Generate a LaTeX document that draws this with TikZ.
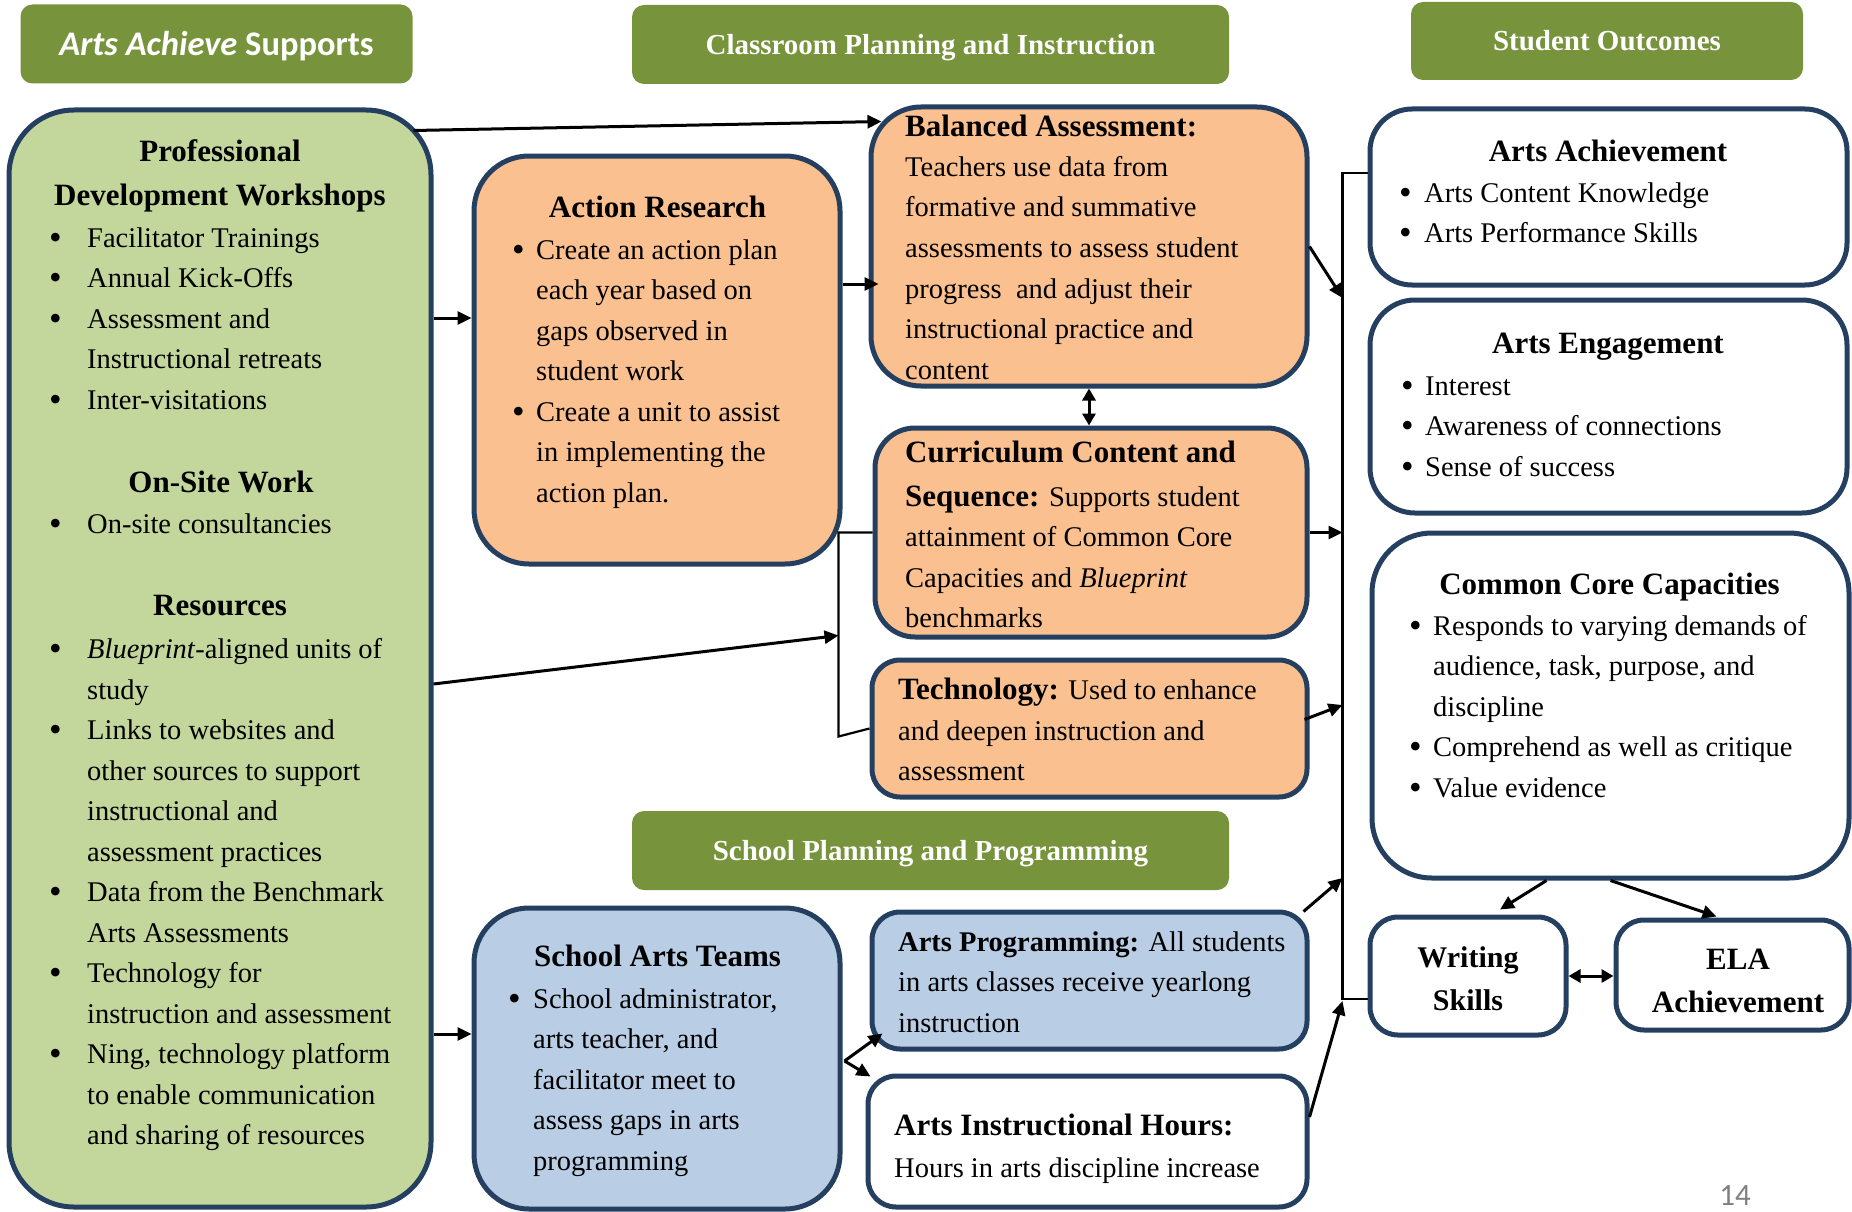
\documentclass[tikz,border=0pt]{standalone}
\usepackage{fontspec}
\setmainfont{Liberation Serif}
\newfontfamily\calfont{Carlito}
\usetikzlibrary{arrows.meta,calc}
\definecolor{hdr}{RGB}{119,147,60}
\definecolor{grn}{RGB}{195,214,155}
\definecolor{org}{RGB}{250,192,144}
\definecolor{blu}{RGB}{185,205,229}
\definecolor{edge}{RGB}{36,63,96}
\definecolor{pgnum}{RGB}{128,128,128}
\newcommand\bodyfont{\fontsize{28.5}{40.5}\selectfont}
\newcommand\hfont{\fontsize{31}{40.5}\selectfont\bfseries}
\newcommand\bl[1]{\makebox[#1][l]{\raisebox{-2pt}{\fontsize{36}{36}\selectfont\textbullet}}}
\begin{document}
\begin{tikzpicture}[x=1pt,y=-1pt,
  hbox/.style={fill=hdr, rounded corners=12pt, inner sep=0pt},
  hdrtext/.style={text=white, font=\fontsize{29}{35}\selectfont\bfseries, inner sep=0pt, anchor=base},
  box/.style={draw=edge, line width=5pt, inner sep=0pt},
  txt/.style={inner sep=0pt, anchor=base west, font=\bodyfont},
  ttl/.style={inner sep=0pt, anchor=base, font=\hfont},
  arr/.style={line width=3pt, -{Triangle[length=14pt,width=13pt]}},
  dbl/.style={line width=3pt, {Triangle[length=12pt,width=13pt]}-{Triangle[length=12pt,width=13pt]}},
  thinl/.style={line width=2.2pt}
]
\useasboundingbox (0,0) rectangle (1852,1212);

% headers
\node[hbox, minimum width=392pt, minimum height=79pt] (h1) at (216.5,44) {};
\node[hbox, minimum width=597pt, minimum height=79pt] (h2) at (930.5,44.5) {};
\node[hbox, minimum width=392pt, minimum height=78pt] (h3) at (1607,41) {};
\node[hbox, minimum width=597pt, minimum height=79pt] (h4) at (930.5,850.5) {};
\node[anchor=base, inner sep=0pt, text=white, font=\calfont\fontsize{34.5}{40}\selectfont\bfseries] (h1t) at (216.5,55.5) {{\itshape Arts Achieve} Supports};
\node[hdrtext] (h2t) at (930.5,54.5) {Classroom Planning and Instruction};
\node[hdrtext] (h3t) at (1607,51) {Student Outcomes};
\node[hdrtext] (h4t) at (930.5,860) {School Planning and Programming};

% boxes
\node[box, fill=grn, rounded corners=65pt, minimum width=422pt, minimum height=1097pt] (pd) at (220,658.5) {};
\node[box, fill=org, rounded corners=55pt, minimum width=366pt, minimum height=408pt] (ar) at (657,360) {};
\node[box, fill=org, rounded corners=50pt, minimum width=436pt, minimum height=279pt] (ba) at (1089,246.5) {};
\node[box, fill=org, rounded corners=40pt, minimum width=432pt, minimum height=209pt] (cc) at (1091,532.5) {};
\node[box, fill=org, rounded corners=28pt, minimum width=435pt, minimum height=137pt] (te) at (1089.5,728.5) {};
\node[box, fill=blu, rounded corners=28pt, minimum width=435pt, minimum height=137pt] (ap) at (1089.5,980.5) {};
\node[box, fill=white, rounded corners=28pt, minimum width=439pt, minimum height=131pt] (ih) at (1087.5,1141.5) {};
\node[box, fill=blu, rounded corners=55pt, minimum width=366pt, minimum height=301pt] (sat) at (657,1058.5) {};
\node[box, fill=white, rounded corners=42pt, minimum width=477pt, minimum height=176pt] (aa) at (1608.5,197) {};
\node[box, fill=white, rounded corners=45pt, minimum width=477pt, minimum height=213pt] (ae) at (1608.5,406.5) {};
\node[box, fill=white, rounded corners=60pt, minimum width=477pt, minimum height=345pt] (ccc) at (1610.5,705.5) {};
\node[box, fill=white, rounded corners=28pt, minimum width=196pt, minimum height=118pt] (ws) at (1468,976) {};
\node[box, fill=white, rounded corners=28pt, minimum width=233pt, minimum height=110pt] (ela) at (1732.5,975) {};

% green box text
\node[ttl] (pdt1) at (220,161.5) {Professional};
\node[ttl] (pdt2) at (220,205.5) {Development Workshops};
\node[txt] (pdl1) at (49,247) {\begin{tabular}[t]{@{}l@{}l@{}}
\bl{38pt}&Facilitator Trainings\\
\bl{38pt}&Annual Kick-Offs\\
\bl{38pt}&Assessment and\\
&Instructional retreats\\
\bl{38pt}&Inter-visitations\end{tabular}};
\node[ttl] (pdt3) at (221,492) {On-Site Work};
\node[txt] (pdl2) at (49,533) {\bl{38pt}On-site consultancies};
\node[ttl] (pdt4) at (220,615.5) {Resources};
\node[txt] (pdl3) at (49,658.5) {\begin{tabular}[t]{@{}l@{}l@{}}
\bl{38pt}&\emph{Blueprint}-aligned units of\\
&study\\
\bl{38pt}&Links to websites and\\
&other sources to support\\
&instructional and\\
&assessment practices\\
\bl{38pt}&Data from the Benchmark\\
&Arts Assessments\\
\bl{38pt}&Technology for\\
&instruction and assessment\\
\bl{38pt}&Ning, technology platform\\
&to enable communication\\
&and sharing of resources\end{tabular}};

% action research
\node[ttl] (art) at (657.5,217) {Action Research};
\node[txt] (arl) at (512,259) {\begin{tabular}[t]{@{}l@{}l@{}}
\bl{24pt}&Create an action plan\\
&each year based on\\
&gaps observed in\\
&student work\\
\bl{24pt}&Create a unit to assist\\
&in implementing the\\
&action plan.\end{tabular}};

% balanced assessment
\node[txt] (bat) at (905,136) {\begin{tabular}[t]{@{}l@{}}
{\hfont Balanced Assessment:}\\
Teachers use data from\\
formative and summative\\
assessments to assess student\\
progress\ \ and adjust their\\
instructional practice and\\
content\end{tabular}};

% curriculum
\node[txt] (cct) at (905,462) {\begin{tabular}[t]{@{}l@{}}
{\hfont Curriculum Content and}\\[3.5pt]
{\hfont Sequence:} Supports student\\
attainment of Common Core\\
Capacities and \emph{Blueprint}\\
benchmarks\end{tabular}};

% technology
\node[txt] (tet) at (898,699.5) {\begin{tabular}[t]{@{}l@{}}
{\hfont Technology:} Used to enhance\\
and deepen instruction and\\
assessment\end{tabular}};

% arts programming
\node[txt] (apt) at (898,951) {\begin{tabular}[t]{@{}l@{}}
{\bfseries Arts Programming:} All students\\
in arts classes receive yearlong\\
instruction\end{tabular}};

% instructional hours
\node[txt] (iht) at (894,1135.5) {\begin{tabular}[t]{@{}l@{}}
{\hfont Arts Instructional Hours:}\\[1.5pt]
Hours in arts discipline increase\end{tabular}};

% school arts teams
\node[ttl] (satt) at (657.5,966) {School Arts Teams};
\node[txt] (satl) at (508,1008) {\begin{tabular}[t]{@{}l@{}l@{}}
\bl{25pt}&School administrator,\\
&arts teacher, and\\
&facilitator meet to\\
&assess gaps in arts\\
&programming\end{tabular}};

% right column
\node[ttl] (aat) at (1608,161.5) {Arts Achievement};
\node[txt] (aal) at (1399,202) {\begin{tabular}[t]{@{}l@{}l@{}}
\bl{25pt}&Arts Content Knowledge\\
\bl{25pt}&Arts Performance Skills\end{tabular}};
\node[ttl] (aet) at (1608,353) {Arts Engagement};
\node[txt] (ael) at (1401,395) {\begin{tabular}[t]{@{}l@{}l@{}}
\bl{24pt}&Interest\\
\bl{24pt}&Awareness of connections\\
\bl{24pt}&Sense of success\end{tabular}};
\node[ttl] (ccct) at (1609.5,594) {Common Core Capacities};
\node[txt] (cccl) at (1409,635) {\begin{tabular}[t]{@{}l@{}l@{}}
\bl{24pt}&Responds to varying demands of\\
&audience, task, purpose, and\\
&discipline\\
\bl{24pt}&Comprehend as well as critique\\
\bl{24pt}&Value evidence\end{tabular}};
\node[inner sep=0pt, anchor=base, font=\fontsize{30}{43}\selectfont\bfseries] (wst) at (1468,967) {\begin{tabular}[t]{@{}c@{}}Writing\\ Skills\end{tabular}};
\node[inner sep=0pt, anchor=base, font=\fontsize{31}{43.5}\selectfont\bfseries] (elat) at (1738,969) {\begin{tabular}[t]{@{}c@{}}ELA\\ Achievement\end{tabular}};
\node[anchor=base, inner sep=0pt, text=pgnum, font=\calfont\fontsize{31}{31}\selectfont] (pg) at (1735,1205) {14};

% connectors
\coordinate (c1) at ($(ar.west)+(0,-42)$);
\coordinate (c2) at ($(ba.west)+(10,37.5)$);
\coordinate (c3) at ($(sat.west)+(0,-24.5)$);
\coordinate (bt) at ($(cc.west)+(-34,0)$);
\coordinate (bb) at ($(bt)+(0,204)$);
\coordinate (bm) at ($(bt)+(0,103)$);
\coordinate (ct) at ($(aa.west)+(-25,-24)$);
\coordinate (cb) at ($(ws.west)+(-25,23)$);

\draw[arr] ($(pd.north east)+(-20,23)$) -- ($(ba.north west)+(13,17)$);
\draw[arr] (pd.east |- c1) -- (c1);
\draw[arr] (ar.east |- c2) -- (c2);
\draw[dbl] (ba.south) -- (ba.south |- cc.north);
\draw[thinl] (cc.west) -- (bt) -- (bb) -- (te.west);
\draw[arr] ($(pd.east)+(0,25.5)$) -- (bm);
\draw[arr] (pd.east |- c3) -- (c3);
\draw[arr] ($(sat.east)+(2,2.5)$) -- ($(ap.south west)+(13,-18)$);
\draw[arr] ($(sat.east)+(2,2.5)$) -- ($(ih.north west)+(5,3)$);

\draw[thinl] ($(aa.west)+(0,-24)$) -- (ct) -- (cb) -- ($(ws.west)+(0,23)$);
\draw[arr] (ba.east) -- ($(ct)+(0,125)$);
\draw[arr] (cc.east) -- (cc.east -| ct);
\draw[arr] ($(te.east)+(-5,-9)$) -- ($(ct)+(0,532)$);
\draw[arr] ($(ap.north east)+(-6,2)$) -- ($(ct)+(0,705)$);
\draw[arr] ($(ih.east)+(0,-24.5)$) -- ($(cb)+(0,2)$);
\draw[arr] ($(ccc.south)+(-64,0)$) -- ($(ws.north)+(32,-5)$);
\draw[arr] (ccc.south) -- ($(ela.north)+(-16,-1)$);
\draw[dbl] (ws.east) -- (ws.east -| ela.west);
\end{tikzpicture}
\end{document}
